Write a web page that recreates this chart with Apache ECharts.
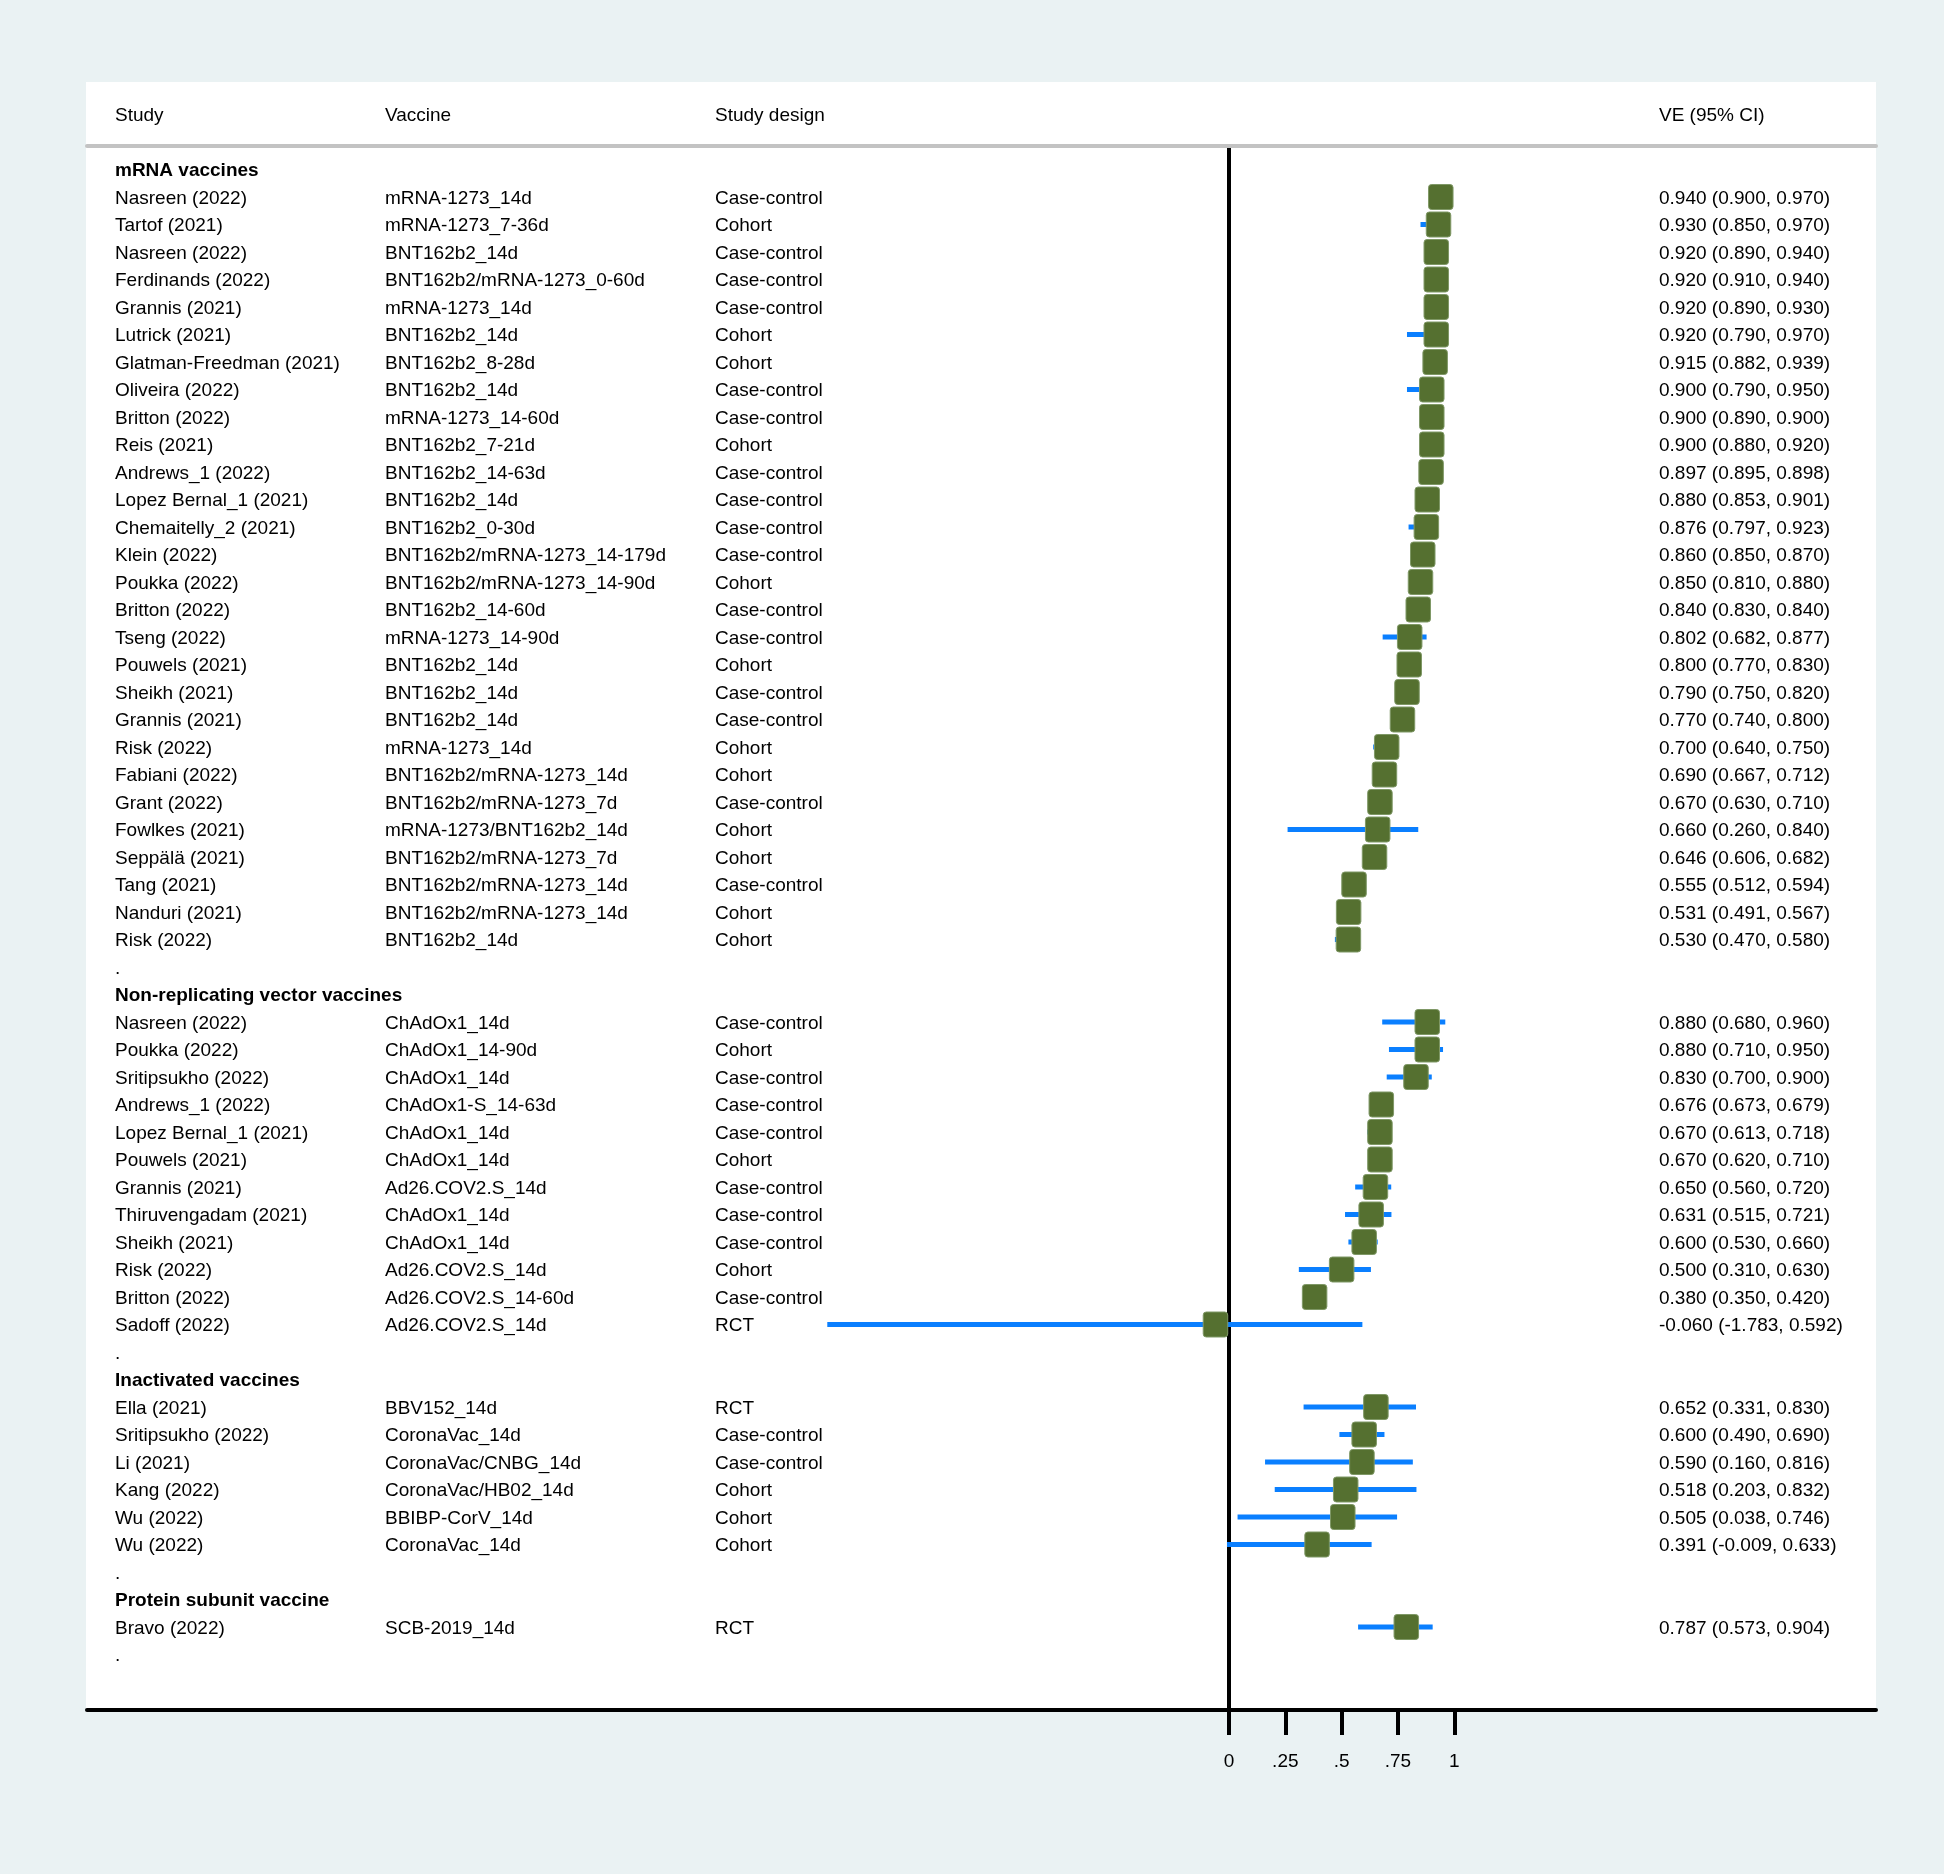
<!DOCTYPE html>
<html>
<head>
<meta charset="utf-8">
<script src="https://cdn.jsdelivr.net/npm/echarts@6/dist/echarts.min.js"></script>
<style>
html,body{margin:0;padding:0;background:#eaf2f3;}
#chart{width:1944px;height:1874px;}
</style>
</head>
<body>
<div id="chart"></div>
<script>
// ---------------- DATA ----------------
const headerLabels = ['Study', 'Vaccine', 'Study design', 'VE (95% CI)'];
const groupNames = ['mRNA vaccines', 'Non-replicating vector vaccines', 'Inactivated vaccines', 'Protein subunit vaccine'];
const groupCounts = [28, 12, 6, 1];

const studies = [
  'Nasreen (2022)','Tartof (2021)','Nasreen (2022)','Ferdinands (2022)','Grannis (2021)','Lutrick (2021)',
  'Glatman-Freedman (2021)','Oliveira (2022)','Britton (2022)','Reis (2021)','Andrews_1 (2022)',
  'Lopez Bernal_1 (2021)','Chemaitelly_2 (2021)','Klein (2022)','Poukka (2022)','Britton (2022)',
  'Tseng (2022)','Pouwels (2021)','Sheikh (2021)','Grannis (2021)','Risk (2022)','Fabiani (2022)',
  'Grant (2022)','Fowlkes (2021)','Seppälä (2021)','Tang (2021)','Nanduri (2021)','Risk (2022)',
  'Nasreen (2022)','Poukka (2022)','Sritipsukho (2022)','Andrews_1 (2022)','Lopez Bernal_1 (2021)',
  'Pouwels (2021)','Grannis (2021)','Thiruvengadam (2021)','Sheikh (2021)','Risk (2022)','Britton (2022)',
  'Sadoff (2022)',
  'Ella (2021)','Sritipsukho (2022)','Li (2021)','Kang (2022)','Wu (2022)','Wu (2022)',
  'Bravo (2022)'
];
const vaccines = [
  'mRNA-1273_14d','mRNA-1273_7-36d','BNT162b2_14d','BNT162b2/mRNA-1273_0-60d','mRNA-1273_14d','BNT162b2_14d',
  'BNT162b2_8-28d','BNT162b2_14d','mRNA-1273_14-60d','BNT162b2_7-21d','BNT162b2_14-63d',
  'BNT162b2_14d','BNT162b2_0-30d','BNT162b2/mRNA-1273_14-179d','BNT162b2/mRNA-1273_14-90d','BNT162b2_14-60d',
  'mRNA-1273_14-90d','BNT162b2_14d','BNT162b2_14d','BNT162b2_14d','mRNA-1273_14d','BNT162b2/mRNA-1273_14d',
  'BNT162b2/mRNA-1273_7d','mRNA-1273/BNT162b2_14d','BNT162b2/mRNA-1273_7d','BNT162b2/mRNA-1273_14d','BNT162b2/mRNA-1273_14d','BNT162b2_14d',
  'ChAdOx1_14d','ChAdOx1_14-90d','ChAdOx1_14d','ChAdOx1-S_14-63d','ChAdOx1_14d',
  'ChAdOx1_14d','Ad26.COV2.S_14d','ChAdOx1_14d','ChAdOx1_14d','Ad26.COV2.S_14d','Ad26.COV2.S_14-60d',
  'Ad26.COV2.S_14d',
  'BBV152_14d','CoronaVac_14d','CoronaVac/CNBG_14d','CoronaVac/HB02_14d','BBIBP-CorV_14d','CoronaVac_14d',
  'SCB-2019_14d'
];
const designs = [
  'Case-control','Cohort','Case-control','Case-control','Case-control','Cohort',
  'Cohort','Case-control','Case-control','Cohort','Case-control',
  'Case-control','Case-control','Case-control','Cohort','Case-control',
  'Case-control','Cohort','Case-control','Case-control','Cohort','Cohort',
  'Case-control','Cohort','Cohort','Case-control','Cohort','Cohort',
  'Case-control','Cohort','Case-control','Case-control','Case-control',
  'Cohort','Case-control','Case-control','Case-control','Cohort','Case-control',
  'RCT',
  'RCT','Case-control','Case-control','Cohort','Cohort','Cohort',
  'RCT'
];
const ve = [
  0.940,0.930,0.920,0.920,0.920,0.920,0.915,0.900,0.900,0.900,0.897,0.880,0.876,0.860,0.850,0.840,
  0.802,0.800,0.790,0.770,0.700,0.690,0.670,0.660,0.646,0.555,0.531,0.530,
  0.880,0.880,0.830,0.676,0.670,0.670,0.650,0.631,0.600,0.500,0.380,-0.060,
  0.652,0.600,0.590,0.518,0.505,0.391,
  0.787
];
const ciLow = [
  0.900,0.850,0.890,0.910,0.890,0.790,0.882,0.790,0.890,0.880,0.895,0.853,0.797,0.850,0.810,0.830,
  0.682,0.770,0.750,0.740,0.640,0.667,0.630,0.260,0.606,0.512,0.491,0.470,
  0.680,0.710,0.700,0.673,0.613,0.620,0.560,0.515,0.530,0.310,0.350,-1.783,
  0.331,0.490,0.160,0.203,0.038,-0.009,
  0.573
];
const ciHigh = [
  0.970,0.970,0.940,0.940,0.930,0.970,0.939,0.950,0.900,0.920,0.898,0.901,0.923,0.870,0.880,0.840,
  0.877,0.830,0.820,0.800,0.750,0.712,0.710,0.840,0.682,0.594,0.567,0.580,
  0.960,0.950,0.900,0.679,0.718,0.710,0.720,0.721,0.660,0.630,0.420,0.592,
  0.830,0.690,0.816,0.832,0.746,0.633,
  0.904
];
const tickValues = [0, 0.25, 0.5, 0.75, 1];
const tickLabels = ['0', '.25', '.5', '.75', '1'];

// ---------------- LAYOUT / STYLE ----------------
const FONT = '"Liberation Sans", Arial, Helvetica, sans-serif';
const FS = 19;
const COL_X = [115, 385, 715, 1659];
const TEXT_DY = 1.5;
const GRID = {left: 87, right: 68, top: 146, bottom: 164};
const PANEL = {left: 86, right: 68, top: 82, bottom: 164};
const ROW0_Y = 169.5, ROW_H = 27.5, HEADER_Y = 114;
const PX_ZERO = 1229, PX_PER_UNIT = 225.3;
const XMIN = (GRID.left - PX_ZERO) / PX_PER_UNIT;
const XMAX = (1944 - GRID.right - PX_ZERO) / PX_PER_UNIT;
const YMIN = (GRID.top - ROW0_Y) / ROW_H;
const YMAX = (1874 - GRID.bottom - ROW0_Y) / ROW_H;
const HEADER_ROW = (HEADER_Y - ROW0_Y) / ROW_H;

// ---------------- BUILD ROWS ----------------
const textItems = [];   // {row, col, text, bold}
const markerData = [];  // [ve, row]
const ciData = [];      // [lo, hi, row]
headerLabels.forEach((t, c) => textItems.push({row: HEADER_ROW, col: c, text: t, bold: false}));
let row = 0, si = 0;
groupNames.forEach((g, gi) => {
  textItems.push({row, col: 0, text: g, bold: true});
  row++;
  for (let k = 0; k < groupCounts[gi]; k++, si++, row++) {
    textItems.push({row, col: 0, text: studies[si]});
    textItems.push({row, col: 1, text: vaccines[si]});
    textItems.push({row, col: 2, text: designs[si]});
    textItems.push({row, col: 3, text: ve[si].toFixed(3) + ' (' + ciLow[si].toFixed(3) + ', ' + ciHigh[si].toFixed(3) + ')'});
    markerData.push([ve[si], row]);
    ciData.push([ciLow[si], ciHigh[si], row]);
  }
  textItems.push({row, col: 0, text: '.'});
  row++;
});

const chart = echarts.init(document.getElementById('chart'), null, {renderer: 'canvas'});
chart.setOption({
  backgroundColor: '#eaf2f3',
  animation: false,
  grid: [
    {left: GRID.left, right: GRID.right, top: GRID.top, bottom: GRID.bottom, containLabel: false},
    {left: PANEL.left, right: PANEL.right, top: PANEL.top, bottom: PANEL.bottom, show: true,
     backgroundColor: '#ffffff', borderWidth: 0, z: -1}
  ],
  xAxis: [
    {
      type: 'value', gridIndex: 0, position: 'bottom', min: XMIN, max: XMAX,
      axisLine: {show: true, onZero: false, lineStyle: {color: '#000', width: 4}},
      axisTick: {show: true, customValues: tickValues, length: 25, lineStyle: {color: '#000', width: 4}},
      axisLabel: {show: true, customValues: tickValues, margin: 42, fontSize: FS, fontFamily: FONT, color: '#000',
                  formatter: v => tickLabels[tickValues.indexOf(v)]},
      splitLine: {show: false}
    },
    {
      type: 'value', gridIndex: 0, position: 'top', min: XMIN, max: XMAX,
      axisLine: {show: true, onZero: false, lineStyle: {color: '#c3c3c3', width: 4}},
      axisTick: {show: false}, axisLabel: {show: false}, splitLine: {show: false}
    },
    {type: 'value', gridIndex: 1, show: false}
  ],
  yAxis: [
    {
      type: 'value', gridIndex: 0, inverse: true, min: YMIN, max: YMAX,
      axisLine: {show: true, onZero: true, onZeroAxisIndex: 0, lineStyle: {color: '#000', width: 4}},
      axisTick: {show: false}, axisLabel: {show: false}, splitLine: {show: false}
    },
    {type: 'value', gridIndex: 1, show: false}
  ],
  series: [
    {
      type: 'custom', name: 'CI', xAxisIndex: 0, yAxisIndex: 0, clip: false, z: 3,
      data: ciData,
      encode: {x: [0, 1], y: 2},
      renderItem: (params, api) => {
        const p1 = api.coord([api.value(0), api.value(2)]);
        const p2 = api.coord([api.value(1), api.value(2)]);
        return {type: 'line', shape: {x1: p1[0], y1: p1[1], x2: p2[0], y2: p2[1]},
                style: {stroke: '#0a7fff', lineWidth: 5, lineCap: 'butt'}};
      }
    },
    {
      type: 'custom', name: 'VE', xAxisIndex: 0, yAxisIndex: 0, clip: false, z: 4,
      data: markerData,
      encode: {x: 0, y: 1},
      renderItem: (params, api) => {
        const p = api.coord([api.value(0), api.value(1)]);
        const w = 24.5, h = 25;
        return {type: 'rect', shape: {x: p[0] - w / 2, y: p[1] - h / 2, width: w, height: h, r: 3},
                style: {fill: '#557030', stroke: '#7f9866', lineWidth: 1}};
      }
    },
    {
      type: 'custom', name: 'table', xAxisIndex: 0, yAxisIndex: 0, clip: false, z: 5,
      data: textItems.map(t => [0, t.row, t.col]),
      encode: {x: 0, y: 1},
      renderItem: (params, api) => {
        const t = textItems[params.dataIndex];
        const y = api.coord([0, t.row])[1] + TEXT_DY;
        return {type: 'text', x: COL_X[t.col], y: y,
                style: {text: t.text, fill: '#000', fontSize: FS, fontFamily: FONT,
                        fontWeight: t.bold ? 'bold' : 'normal', align: 'left', verticalAlign: 'middle'}};
      }
    }
  ]
});
</script>
</body>
</html>
